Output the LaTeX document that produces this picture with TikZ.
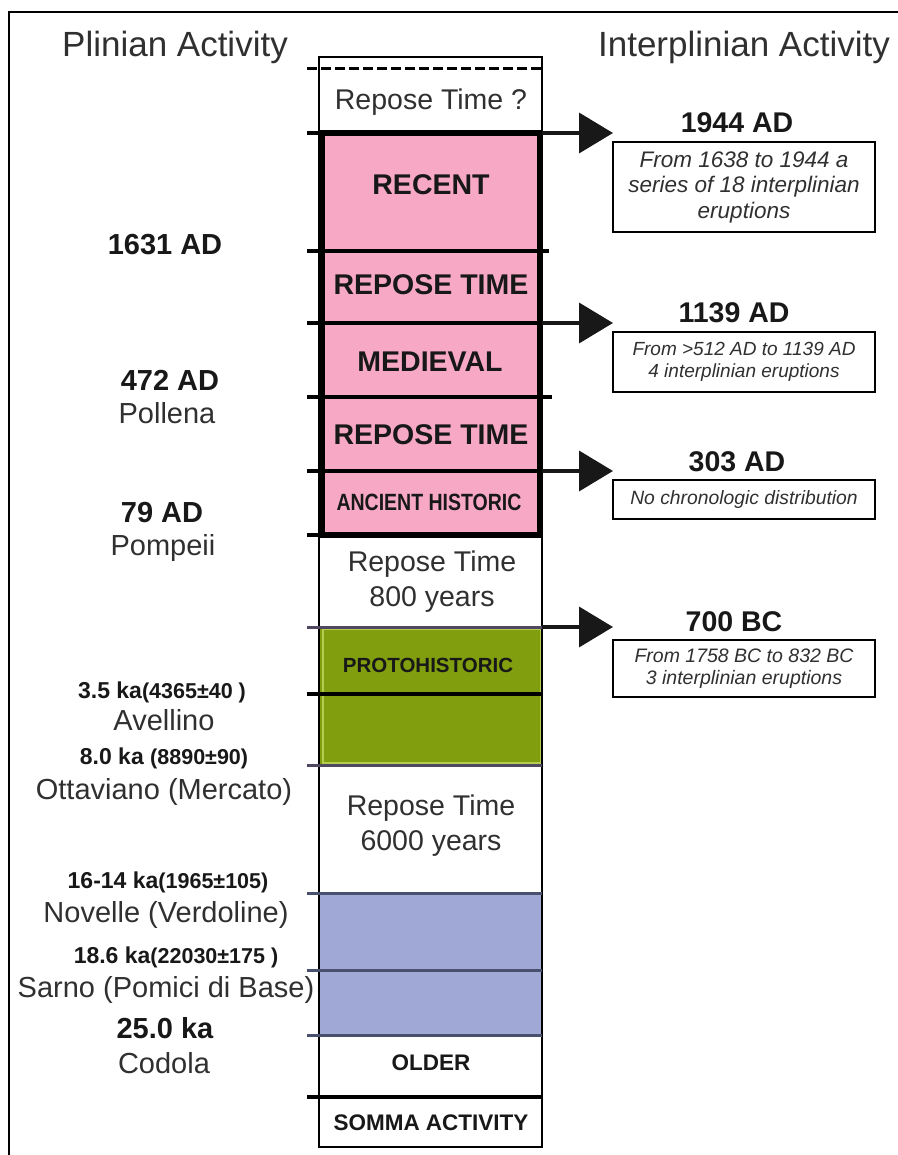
\documentclass[tikz,border=0pt]{standalone}
\usepackage{fontspec}
\setmainfont{Liberation Sans}
\newfontfamily\narrowfont[FakeStretch=0.83]{Liberation Sans}
\usetikzlibrary{arrows.meta}
\definecolor{pinkc}{RGB}{246,168,196}
\definecolor{greenc}{RGB}{128,158,14}
\definecolor{greenedge}{RGB}{180,204,80}
\definecolor{greenline}{RGB}{80,72,96}
\definecolor{bluec}{RGB}{160,168,214}
\definecolor{blueline}{RGB}{72,80,110}
\definecolor{txtgray}{RGB}{48,48,48}
\definecolor{txtdark}{RGB}{24,24,24}
\begin{document}
\begin{tikzpicture}[x=1pt,y=-1pt,
  head/.style={font=\fontsize{35}{40}\selectfont, text=txtgray, inner sep=0pt},
  lbl/.style={font=\fontsize{29}{32}\selectfont, text=txtgray, inner sep=0pt},
  lblb/.style={font=\fontsize{29}{32}\selectfont\bfseries, text=txtdark, inner sep=0pt},
  lbls/.style={font=\fontsize{23}{26}\selectfont\bfseries, text=txtdark, inner sep=0pt},
  reptxt/.style={font=\fontsize{28.5}{35}\selectfont, text=txtgray, align=center, inner sep=0pt},
  era/.style={font=\fontsize{28.5}{32}\selectfont\bfseries, text=txtdark, inner sep=0pt},
  erasmall/.style={font=\fontsize{22.5}{26}\selectfont\bfseries, text=txtdark, inner sep=0pt},
  ttl/.style={font=\fontsize{28.5}{32}\selectfont\bfseries, text=txtdark, inner sep=0pt},
  ibox/.style={draw, line width=2.5pt, minimum width=262pt, inner sep=0pt, align=center, text=txtgray},
  hline/.style={line width=3.5pt},
  bigarrow/.style={line width=3.8pt, draw=txtdark, -{Triangle[length=34pt,width=40pt]}}
]
\useasboundingbox (0,0) rectangle (897,1155);
\fill[white] (0,0) rectangle (897,1155);
% outer frame
\draw[line width=2.5pt] (9,1160) -- (9,12) -- (900,12);

% headings
\node[head, anchor=base] (hplin) at (175,57) {Plinian Activity};
\node[head, anchor=base] (hinter) at (744,57) {Interplinian Activity};

% fills
\fill[pinkc] (321,133) rectangle (541,535);
\fill[greenc] (320,627) rectangle (542,765);
\draw[greenedge, line width=1.2pt] (323,629) rectangle (540.5,763);
\fill[bluec] (320,893) rectangle (542,1035);

% column frame
\draw[line width=2.5pt] (319,57) rectangle (542,1147);

% boundaries
\draw[line width=3pt, dash pattern=on 10pt off 4pt] (307,69) -- (542,69);
\draw[hline] (307,133) -- (542,133);
\draw[hline] (307,251) -- (549,251);
\draw[hline] (307,323) -- (542,323);
\draw[hline] (307,397) -- (552,397);
\draw[hline] (307,471) -- (542,471);
\draw[hline] (307,535) -- (542,535);
\draw[line width=3pt, greenline] (307,627) -- (542,627);
\draw[hline] (307,694) -- (542,694);
\draw[line width=3pt, greenline] (307,765) -- (542,765);
\draw[line width=3pt, blueline] (307,893) -- (542,893);
\draw[line width=3pt, blueline] (307,970) -- (542,970);
\draw[line width=3pt, blueline] (307,1035) -- (542,1035);
\draw[hline] (307,1097) -- (542,1097);

% pink border
\draw[line width=5.5pt] (322,133) rectangle (540,535);

% column texts
\node[reptxt] (rq) at (431,102) {Repose Time ?};
\node[era] (recent) at (431,185) {RECENT};
\node[era] (rep1) at (431,285) {REPOSE TIME};
\node[era] (medieval) at (430,362) {MEDIEVAL};
\node[era] (rep2) at (431,435) {REPOSE TIME};
\node[font=\fontsize{23.5}{26}\narrowfont\bfseries, text=txtdark, inner sep=0pt] (ancient) at (429,502) {ANCIENT HISTORIC};
\node[reptxt] (rep800) at (432,582) {Repose Time\\800 years};
\node[font=\fontsize{20.5}{24}\selectfont\bfseries, text=txtdark, inner sep=0pt] (proto) at (428,665) {PROTOHISTORIC};
\node[reptxt] (rep6000) at (431,826) {Repose Time\\6000 years};
\node[erasmall] (older) at (431,1063) {OLDER};
\node[erasmall] (somma) at (431,1123) {SOMMA ACTIVITY};

% left labels
\node[lblb] (l1631) at (165,245) {1631 AD};
\node[lblb] (l472) at (170,380) {472 AD};
\node[lbl] (lpol) at (167,413) {Pollena};
\node[lblb] (l79) at (162,513) {79 AD};
\node[lbl] (lpom) at (163,548) {Pompeii};
\node[lbls] (l35) at (162,692) {3.5 ka\fontsize{21.5}{26}\selectfont(4365±40 )};
\node[lbl] (lave) at (164,720) {Avellino};
\node[lbls] (l80) at (164,758) {8.0 ka \fontsize{21.5}{26}\selectfont(8890±90)};
\node[lbl] (lott) at (164,792) {Ottaviano (Mercato)};
\node[lbls] (l16) at (168,882) {16-14 ka\fontsize{21.5}{26}\selectfont(1965±105)};
\node[lbl] (lnov) at (166,915) {Novelle (Verdoline)};
\node[lbls] (l186) at (176,957) {18.6 ka\fontsize{21.5}{26}\selectfont(22030±175 )};
\node[lbl] (lsar) at (166,990) {Sarno (Pomici di Base)};
\node[lblb] (l25) at (165,1028) {25.0 ka};
\node[lbl] (lcod) at (164,1063) {Codola};

% arrows
\coordinate (a1s) at (542,133); \coordinate (a1e) at (613,133);
\coordinate (a2s) at (542,323); \coordinate (a2e) at (613,323);
\coordinate (a3s) at (542,471); \coordinate (a3e) at (613,471);
\coordinate (a4s) at (542,627); \coordinate (a4e) at (613,627);
\draw[bigarrow] (a1s) -- (a1e);
\draw[bigarrow] (a2s) -- (a2e);
\draw[bigarrow] (a3s) -- (a3e);
\draw[bigarrow] (a4s) -- (a4e);

% right side
\node[ttl] (t1944) at (737,123) {1944 AD};
\node[ibox, minimum height=90pt, font=\fontsize{22.5}{25.5}\selectfont\itshape] (b1944) at (744,187) {From 1638 to 1944 a\\series of 18 interplinian\\eruptions};
\node[ttl] (t1139) at (734,313) {1139 AD};
\node[ibox, minimum height=60pt, font=\fontsize{19}{22}\selectfont\itshape] (b1139) at (744,362) {From >512 AD to 1139 AD\\4 interplinian eruptions};
\node[ttl] (t303) at (737,462) {303 AD};
\node[ibox, minimum height=39pt, font=\fontsize{19.3}{22}\selectfont\itshape] (b303) at (744,499.5) {No chronologic distribution};
\node[ttl] (t700) at (734,622) {700 BC};
\node[ibox, minimum height=57pt, font=\fontsize{19.5}{22}\selectfont\itshape] (b700) at (744,668.5) {From 1758 BC to 832 BC\\3 interplinian eruptions};
\end{tikzpicture}
\end{document}
